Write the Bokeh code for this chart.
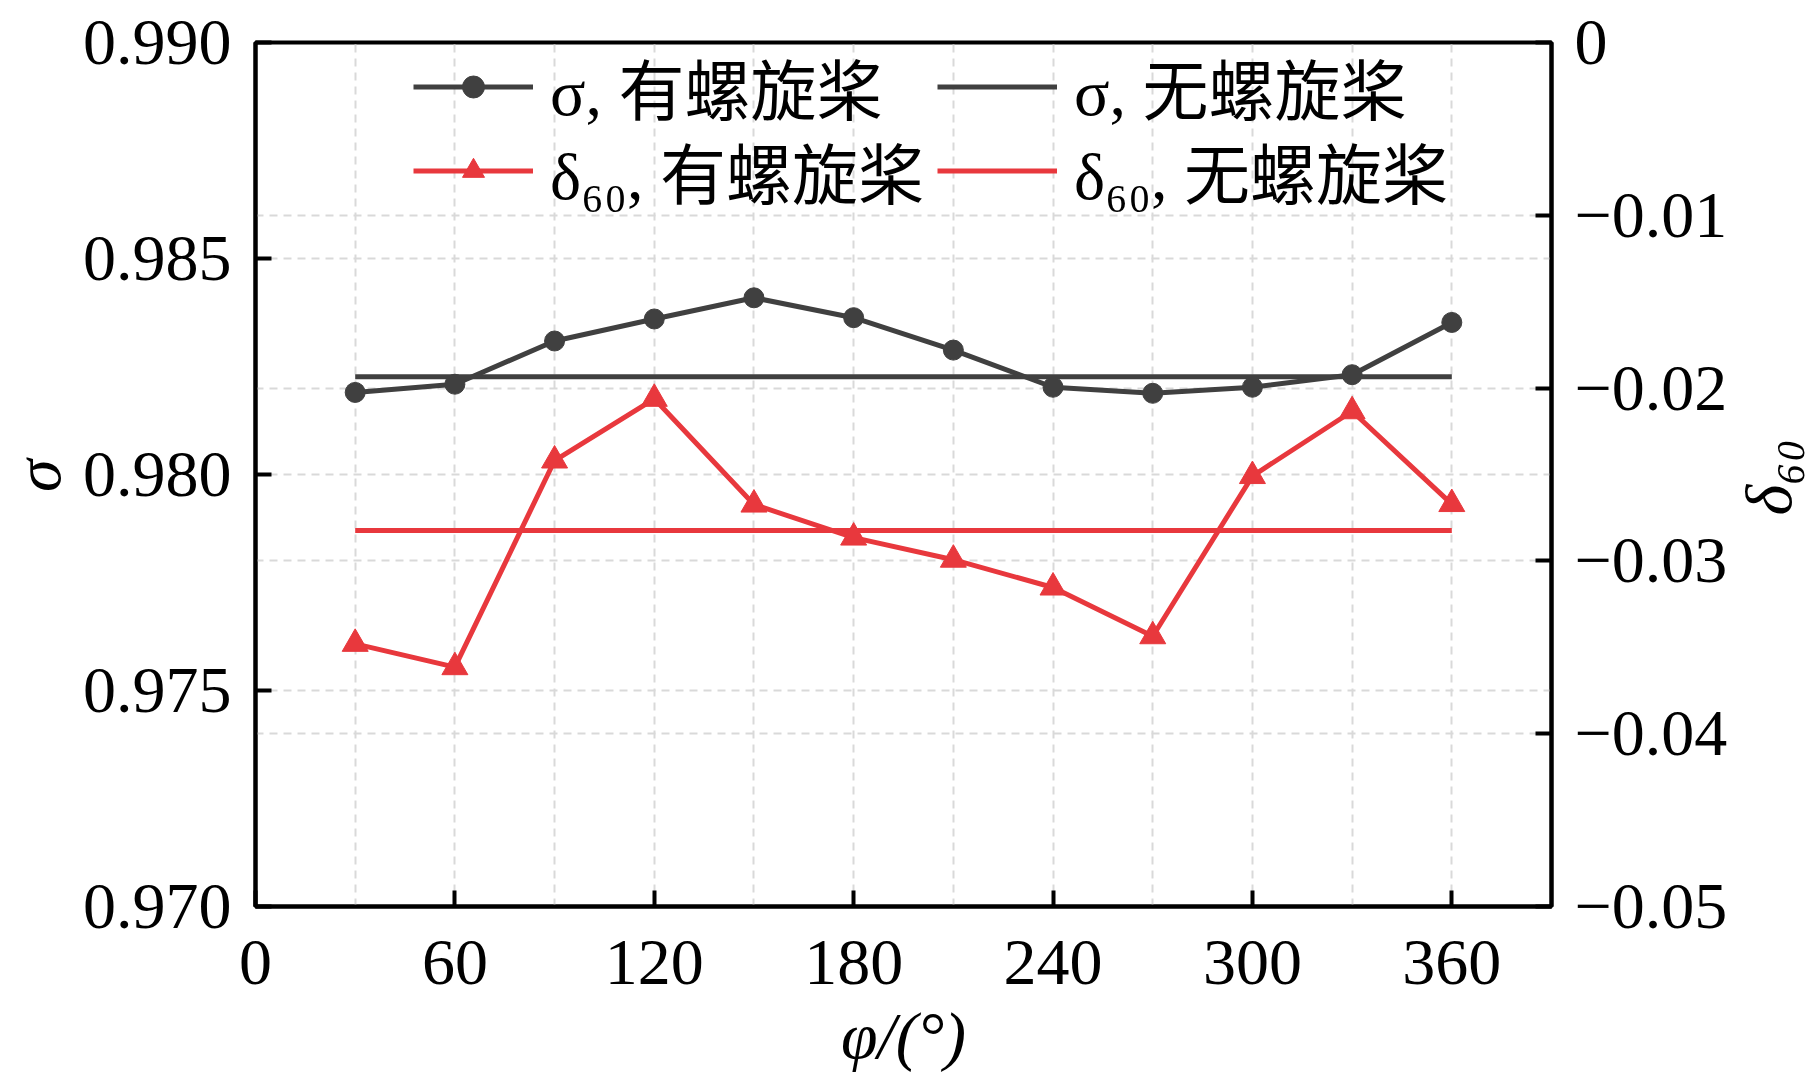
import math
from bokeh.plotting import figure
from bokeh.models import Range1d, LinearAxis, FixedTicker, Grid, Legend, LegendItem, Label
from bokeh.embed import file_html
from bokeh.resources import INLINE

# ---- data ----
phi = [30, 60, 90, 120, 150, 180, 210, 240, 270, 300, 330, 360]
sigma_with = [0.98190, 0.98209, 0.98309, 0.98360, 0.98409, 0.98363,
              0.98288, 0.98202, 0.98188, 0.98202, 0.98231, 0.98352]
sigma_without = [0.98226] * 12
delta_with = [-0.03480, -0.03615, -0.02419, -0.02062, -0.02674, -0.02865,
              -0.02993, -0.03154, -0.03436, -0.02509, -0.02134, -0.02671]
delta_without = [-0.02824] * 12

x_ticks = [0, 60, 120, 180, 240, 300, 360]
x_grid = [30, 60, 90, 120, 150, 180, 210, 240, 270, 300, 330, 360]
sigma_ticks = [0.970, 0.975, 0.980, 0.985, 0.990]
sigma_tick_labels = ["0.970", "0.975", "0.980", "0.985", "0.990"]
delta_ticks = [0, -0.01, -0.02, -0.03, -0.04, -0.05]
delta_tick_labels = ["0", "\u22120.01", "\u22120.02", "\u22120.03", "\u22120.04", "\u22120.05"]

labels = ["\u03c3, 有螺旋桨", "\u03c3, 无螺旋桨", "\u03b4\u2086\u2080, 有螺旋桨", "\u03b4\u2086\u2080, 无螺旋桨"]
x_title = "\u03c6/(°)"
y_title = "\u03c3"
y2_title = "\u03b4\u2086\u2080"

GRAY = "#404040"
RED = "#e8383d"
FONT = "Liberation Serif, Noto Sans CJK SC"
FS = "66px"

p = figure(width=1819, height=1087, x_range=Range1d(0, 390), y_range=Range1d(0.970, 0.990),
           output_backend="svg", toolbar_location=None,
           min_border_left=255, min_border_right=268, min_border_top=42, min_border_bottom=181)
p.extra_y_ranges = {"d": Range1d(-0.05, 0)}
p.background_fill_color = "white"
p.border_fill_color = "white"
p.outline_line_color = "black"
p.outline_line_width = 4
p.outline_line_alpha = 1.0

p.xaxis.ticker = FixedTicker(ticks=x_ticks)
p.yaxis.ticker = FixedTicker(ticks=sigma_ticks)
p.yaxis.major_label_overrides = dict(zip(sigma_ticks, sigma_tick_labels))
p.xaxis.axis_label = x_title

ax_r = LinearAxis(y_range_name="d", ticker=FixedTicker(ticks=delta_ticks))
ax_r.major_label_overrides = dict(zip(delta_ticks, delta_tick_labels))
p.add_layout(ax_r, "right")

for ax in [p.xaxis[0], p.yaxis[0], ax_r]:
    ax.axis_line_width = 4
    ax.axis_line_color = "black"
    ax.major_tick_in = 16
    ax.major_tick_out = 0
    ax.major_tick_line_width = 4
    ax.major_tick_line_color = "black"
    ax.minor_tick_line_color = None
    ax.major_label_text_font = FONT
    ax.major_label_text_font_size = FS
    ax.major_label_text_color = "black"
    ax.axis_label_text_font = FONT
    ax.axis_label_text_font_size = FS
    ax.axis_label_text_font_style = "italic"
    ax.axis_label_text_color = "black"

p.yaxis[0].major_label_standoff = 24
p.xaxis[0].major_label_standoff = 34
p.xaxis[0].axis_label_standoff = 12
ax_r.major_label_standoff = 23

# vertical titles, both reading bottom-to-top, placed in the side borders
title_style = dict(angle=math.pi / 2, text_align="center", text_baseline="middle",
                   text_font=FONT, text_font_size=FS, text_font_style="italic",
                   text_color="black")
p.add_layout(Label(x=-65.5, y=0.97997, text=y_title, **title_style), "left")
p.add_layout(Label(x=455.4, y=0.97994, text=y2_title, **title_style), "right")

GRID_COLOR = "#d9d9d9"
p.xgrid.ticker = FixedTicker(ticks=x_grid)
p.ygrid.ticker = FixedTicker(ticks=sigma_ticks)
g2 = Grid(dimension=1, ticker=FixedTicker(ticks=delta_ticks), y_range_name="d")
p.add_layout(g2)
for g in [p.xgrid[0], p.ygrid[0], g2]:
    g.grid_line_color = GRID_COLOR
    g.grid_line_width = 2
    g.grid_line_dash = "8 6"

r1 = p.line(phi, sigma_with, line_color=GRAY, line_width=5)
r1m = p.scatter(phi, sigma_with, marker="circle", size=20, fill_color=GRAY, line_color=GRAY)
r2 = p.line(phi, sigma_without, line_color=GRAY, line_width=5)
r3 = p.line(phi, delta_with, line_color=RED, line_width=5, y_range_name="d")
r3m = p.scatter(phi, delta_with, marker="triangle", size=26, fill_color=RED, line_color=RED, y_range_name="d")
r4 = p.line(phi, delta_without, line_color=RED, line_width=5, y_range_name="d")

legend_style = dict(orientation="horizontal", glyph_width=120, glyph_height=55, label_standoff=17,
                    spacing=-36, label_width=387, padding=6, margin=0, border_line_color=None,
                    background_fill_alpha=0, label_text_font=FONT, label_text_font_size=FS,
                    label_text_color="black")
legend_sigma = Legend(items=[
    LegendItem(label=labels[0], renderers=[r1, r1m]),
    LegendItem(label=labels[1], renderers=[r2]),
], location=(158, 772), **legend_style)
legend_delta = Legend(items=[
    LegendItem(label=labels[2], renderers=[r3, r3m]),
    LegendItem(label=labels[3], renderers=[r4]),
], location=(158, 688), **legend_style)
p.add_layout(legend_sigma)
p.add_layout(legend_delta)

open("out.html", "w").write(file_html(p, INLINE))
